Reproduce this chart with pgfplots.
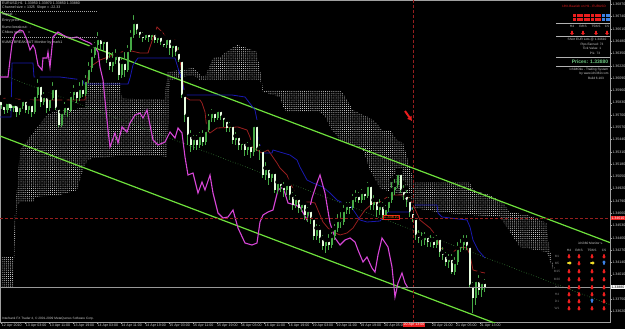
\documentclass[border=0pt]{standalone}
\usepackage{pgfplots}
\pgfplotsset{compat=1.18}
\usepackage{pgfplotstable}
\usepackage{fontspec}
\setmainfont{Liberation Sans}
\usetikzlibrary{patterns.meta,arrows.meta,shapes.arrows}
\definecolor{cgreen}{RGB}{70,170,70}
\definecolor{cwhite}{RGB}{232,255,225}
\definecolor{cmag}{RGB}{215,70,215}
\definecolor{cblue}{RGB}{25,25,175}
\definecolor{cdred}{RGB}{150,30,30}
\definecolor{clime}{RGB}{110,225,60}
\definecolor{cdot}{RGB}{60,140,60}
\definecolor{cred}{RGB}{235,30,30}
\definecolor{tgray}{RGB}{205,205,205}
\definecolor{cyell}{RGB}{240,220,40}
\definecolor{cbl}{RGB}{60,130,230}
\definecolor{pgreen}{RGB}{110,200,130}
\newcommand\ft{\fontsize{3.6}{4.3}\selectfont}
\newcommand\fs{\fontsize{3.2}{3.8}\selectfont}
\tikzset{blk/.style={single arrow, draw=none, fill=#1, minimum height=4.2bp, minimum width=3.8bp, single arrow head extend=0.5bp, single arrow head indent=0pt, inner sep=0.3bp}}
\newcommand\dn[2]{\node[blk=cred, rotate=-90] at (axis cs:#1,#2) {};}
\newcommand\up[2]{\node[blk=cbl, rotate=90] at (axis cs:#1,#2) {};}
\newcommand\rt[2]{\node[blk=cyell] at (axis cs:#1,#2) {};}
\pgfplotstableread{
x o c h l
1.5 100 105 97 109
4.5 105 110 102 114
7.5 110 102 99 113
10.5 102 108 99 111
13.5 108 104 100 112
16.5 104 112 101 117
19.5 112 106 103 115
22.5 106 100 97 109
25.5 100 110 98 113
28.5 110 104 101 114
31.5 104 112 102 117
34.5 112 95 92 114
37.5 95 85 77 98
40.5 85 102 82 107
43.5 102 96 90 105
46.5 96 108 93 113
49.5 108 98 95 111
52.5 98 88 80 100
55.5 88 108 84 110
58.5 108 125 105 127
61.5 125 112 108 127
64.5 112 106 100 115
67.5 106 110 103 117
70.5 110 95 90 112
73.5 95 90 83 100
76.5 90 98 86 103
79.5 98 88 80 101
82.5 88 94 78 97
85.5 94 80 73 96
88.5 80 68 60 83
91.5 68 55 47 72
94.5 55 45 40 58
97.5 45 38 30 48
100.5 38 44 34 50
103.5 44 40 37 52
106.5 40 60 37 63
109.5 60 66 50 70
112.5 66 60 50 72
115.5 60 55 47 64
118.5 55 75 52 80
121.5 75 62 55 78
124.5 62 70 50 77
127.5 70 50 43 72
130.5 50 35 28 52
133.5 35 22 13 38
136.5 22 30 18 34
139.5 30 35 27 38
142.5 35 38 30 42
145.5 38 33 29 40
148.5 33 37 30 42
151.5 37 33 30 40
154.5 33 40 31 43
157.5 40 36 32 43
160.5 36 42 33 45
163.5 42 45 38 47
166.5 45 38 34 48
169.5 38 48 35 55
172.5 48 44 40 57
175.5 44 52 42 56
178.5 52 60 45 62
181.5 60 95 58 98
184.5 95 115 92 122
187.5 115 135 112 145
190.5 135 145 128 152
193.5 145 138 133 150
196.5 138 145 133 150
199.5 145 135 130 148
202.5 135 142 128 146
205.5 142 130 126 145
208.5 130 118 112 132
211.5 118 112 107 122
214.5 112 118 108 122
217.5 118 110 106 120
220.5 110 116 107 120
223.5 116 120 112 127
226.5 120 128 117 132
229.5 128 125 120 132
232.5 125 140 122 144
235.5 140 136 130 145
238.5 136 145 133 150
241.5 145 142 138 150
244.5 142 150 140 156
247.5 150 145 140 155
250.5 145 152 142 158
253.5 152 125 122 156
256.5 125 148 122 151
259.5 148 150 142 160
262.5 150 175 147 178
265.5 175 168 160 180
268.5 168 178 165 185
271.5 178 172 168 182
274.5 172 190 170 193
277.5 190 182 178 194
280.5 182 186 178 192
283.5 186 190 180 197
286.5 190 184 180 195
289.5 184 195 182 200
292.5 195 205 190 210
295.5 205 198 193 208
298.5 198 208 195 213
301.5 208 203 200 212
304.5 203 215 200 220
307.5 215 210 205 222
310.5 210 218 207 224
313.5 218 236 215 240
316.5 236 228 222 240
319.5 228 238 223 243
322.5 238 246 233 250
325.5 246 240 236 253
328.5 240 245 232 250
331.5 245 236 230 248
334.5 236 228 222 240
337.5 228 220 212 232
340.5 220 222 210 228
343.5 222 210 203 225
346.5 210 205 200 214
349.5 205 208 200 214
352.5 208 198 192 210
355.5 198 195 188 202
358.5 195 200 190 203
361.5 200 192 187 203
364.5 192 196 188 200
367.5 196 185 180 198
370.5 185 205 183 210
373.5 205 200 193 210
376.5 200 210 196 217
379.5 210 205 197 215
382.5 205 215 200 220
385.5 215 208 203 218
388.5 208 200 195 212
391.5 200 190 180 203
394.5 190 185 177 195
397.5 185 173 170 188
400.5 173 190 170 193
403.5 190 195 183 200
406.5 195 200 188 207
409.5 200 212 195 217
412.5 212 218 205 222
415.5 218 235 217 240
418.5 235 238 228 243
421.5 238 240 230 246
424.5 240 236 230 245
427.5 236 242 232 247
430.5 242 240 233 247
433.5 240 245 235 248
436.5 245 238 233 248
439.5 238 252 236 257
442.5 252 255 245 260
445.5 255 262 250 266
448.5 262 258 252 268
451.5 258 272 252 274
454.5 272 262 255 275
457.5 262 248 240 265
460.5 248 245 237 252
463.5 245 240 233 250
466.5 240 246 233 250
469.5 246 285 243 288
472.5 285 298 280 313
475.5 298 280 277 305
478.5 280 290 273 295
481.5 290 282 278 297
484.5 282 287 277 292
}\candles
\begin{document}
\begin{tikzpicture}
\useasboundingbox[fill=black] (0,-7bp) rectangle (625bp,322bp);
\begin{axis}[
  at={(0,0)}, anchor=south west,
  width=610bp, height=322bp, scale only axis,
  xmin=0, xmax=610, ymin=0, ymax=322, y dir=reverse,
  axis background/.style={fill=black},
  axis line style={draw=gray!75, line width=0.6bp},
  clip mode=individual,
  xtick pos=left, ytick pos=right,
  tick align=outside, major tick length=1.5bp,
  tick style={gray!75, line width=0.4bp},
  xtick={1.7,25.6,49.5,73.4,97.3,121.2,145.1,169,192.9,216.8,240.7,264.6,288.5,312.4,336.3,360.2,384.1,408,431.9,455.8,479.7},
  xticklabels={12 Apr 2010,13 Apr 03:00,13 Apr 11:00,13 Apr 19:00,14 Apr 03:00,14 Apr 11:00,14 Apr 19:00,15 Apr 03:00,15 Apr 11:00,15 Apr 19:00,16 Apr 03:00,16 Apr 11:00,16 Apr 19:00,19 Apr 03:00,19 Apr 11:00,19 Apr 19:00,20 Apr 05:00,{},20 Apr 21:00,21 Apr 05:00,21 Apr 13:00},
  xticklabel style={anchor=north west, inner sep=0.6bp, xshift=-0.5bp, font=\ft, text=tgray},
  ytick={4.4,16.7,29.0,41.3,53.5,65.8,78.1,90.4,102.7,115.0,127.3,139.6,151.8,164.1,176.4,188.7,201.0,213.3,225.6,237.9,250.2,262.5,274.7,287.0,299.3,311.6},
  yticklabels={1.36870,1.36740,1.36610,1.36480,1.36350,1.36220,1.36090,1.35960,1.35830,1.35700,1.35570,1.35440,1.35310,1.35180,1.35050,1.34920,1.34790,1.34660,1.34530,1.34400,1.34270,1.34140,1.34010,1.33880,1.33750,1.33620},
  yticklabel style={anchor=west, inner sep=0.8bp, font=\ft, text=tgray},
]
% Ichimoku cloud
\addplot[draw=none, pattern={Dots[distance=2.1bp,radius=0.5bp]}, pattern color=white!88!gray] coordinates {
(2,257)(13,257)(15,215)(17,190)(20,150)(33,133)(47,115)(58,110)(72,110)(85,107)(87,83)(93,82)(120,83)(122,98)(165,100)(167,72)(180,70)(193,68)(200,75)(205,77)(208,70)(213,58)(220,57)(232,48)(237,45)(247,48)(257,52)(260,67)(263,90)(340,90)(343,93)(353,110)(363,115)(370,118)(377,123)(382,130)(390,130)(397,140)(403,143)(407,157)(412,175)(414,182)(470,182)(473,190)(483,193)(490,195)(498,200)(503,202)(510,212)(527,215)(547,223)(548,237)(552,260)(555,268)
(552,268)(547,252)(520,247)(510,232)(500,217)(470,215)(437,212)(415,208)(400,195)(380,188)(370,170)(363,150)(353,145)(340,140)(332,130)(325,116)(320,112)(287,112)(283,107)(280,97)(263,92)(260,80)(200,80)(193,75)(180,78)(170,80)(167,157)(148,155)(120,156)(93,158)(88,160)(85,165)(82,173)(77,190)(60,195)(35,197)(33,202)(20,202)(17,205)(15,240)(13,288)(2,288)
} -- cycle;
% channel
\addplot[clime, line width=1.2bp] coordinates {(0,12)(610,242.6)};
\addplot[clime, line width=1.2bp] coordinates {(0,136)(610,366.6)};
\addplot[cdot, line width=0.6bp, dotted] coordinates {(0,74)(610,304.6)};
% tenkan / kijun
\addplot[cdred, line width=0.8bp] coordinates {(0,98)(30,100)(60,100)(85,100)(87,83)(90,67)(100,60)(127,50)(140,53)(148,53)(153,38)(157,27)(167,37)(175,40)(180,60)(185,97)(190,100)(200,100)(202,103)(205,112)(207,130)(210,133)(217,128)(238,127)(247,130)(250,137)(252,147)(262,153)(268,150)(277,163)(280,168)(287,175)(290,183)(295,192)(297,202)(310,202)(315,203)(320,215)(323,222)(328,228)(333,232)(340,235)(347,233)(353,228)(360,217)(365,210)(373,203)(380,202)(390,195)(403,195)(410,198)(420,220)(430,228)(437,237)(440,248)(447,250)(453,252)(460,247)(467,248)(470,255)(473,270)(480,272)(485,273)};
\addplot[cblue, line width=0.8bp] coordinates {(0,117)(11,117)(12,63)(33,63)(34,77)(60,77)(83,80)(84,84)(128,84)(130,78)(133,65)(138,58)(175,58)(178,68)(182,80)(185,95)(232,95)(245,97)(255,110)(257,120)(258,140)(263,153)(272,153)(273,150)(290,155)(297,160)(300,167)(307,180)(313,183)(323,187)(330,193)(337,200)(343,203)(350,205)(360,220)(367,222)(380,221)(388,212)(410,212)(413,205)(437,205)(438,213)(442,217)(467,220)(470,227)(473,240)(478,250)(485,258)};
% chikou
\addplot[cmag, line width=1.1bp] coordinates {(0,77)(8,77)(10,60)(12,44)(15,34)(20,30)(23,31)(27,40)(30,50)(33,45)(35,49)(38,65)(42,70)(43,58)(47,58)(48,52)(50,67)(53,37)(58,32)(63,35)(67,37)(72,38)(77,37)(83,40)(90,43)(95,47)(98,52)(100,67)(103,80)(105,100)(108,130)(110,147)(115,133)(118,143)(122,127)(127,132)(130,123)(135,115)(140,113)(143,118)(147,110)(150,125)(153,140)(158,145)(165,142)(170,132)(175,138)(178,128)(182,133)(185,157)(188,175)(193,173)(198,193)(202,182)(205,190)(210,175)(213,193)(218,213)(223,218)(228,217)(233,210)(238,228)(245,243)(252,245)(257,243)(260,222)(263,215)(268,212)(273,210)(278,190)(283,187)(288,203)(295,205)(300,207)(307,220)(312,198)(317,183)(320,175)(325,193)(330,223)(335,238)(340,245)(345,240)(350,238)(355,242)(358,250)(363,262)(367,257)(372,268)(375,272)(378,255)(382,238)(388,247)(392,267)(395,297)(398,283)(402,273)(405,283)(408,288)};
% candles: wicks
\addplot[only marks, mark=none, error bars/.cd, y dir=plus, y explicit, error mark=none, error bar style={draw=cgreen, line width=0.8bp}]
  table[x=x, y=h, y error plus expr=\thisrow{l}-\thisrow{h}] {\candles};
% bear bodies (white)
\addplot[only marks, mark=none, restrict expr to domain={\thisrow{c}-\thisrow{o}}{0.5:1000}, error bars/.cd, y dir=plus, y explicit, error mark=none, error bar style={draw=cwhite, line width=2bp}]
  table[x=x, y=o, y error plus expr=\thisrow{c}-\thisrow{o}] {\candles};
% bull bodies
\addplot[only marks, mark=none, restrict expr to domain={\thisrow{o}-\thisrow{c}}{0.5:1000}, error bars/.cd, y dir=plus, y explicit, error mark=none, error bar style={draw=cgreen, line width=2bp}]
  table[x=x, y=c, y error plus expr=\thisrow{o}-\thisrow{c}] {\candles};
% reference lines
\addplot[cdred, line width=0.8bp, dash pattern=on 3bp off 2bp] coordinates {(0,218)(610,218)};
\addplot[cdred, line width=0.8bp, dash pattern=on 3bp off 2bp] coordinates {(413,0)(413,322)};
\addplot[gray!80, line width=0.7bp] coordinates {(0,287)(610,287)};
\addplot[cred, line width=2bp, -{Latex[length=4.5bp,width=6bp]}] coordinates {(405,111)(412,121)};
% price labels
\node[fill=cred, text=white, font=\ft, inner sep=0.8bp, anchor=west] at (axis cs:610.5,218) {1.34610};
\node[fill=white, text=black, font=\ft, inner sep=0.8bp, anchor=west] at (axis cs:610.5,287) {1.33880};
\node[fill=cred, text=white, font=\ft, inner sep=0.6bp, anchor=north] at (axis cs:414,322.3) {20 Apr 13:00};
\node[draw=cred, fill=black, text=orange!80!red, font=\fontsize{4.2}{5}\selectfont, inner sep=0.6bp, anchor=west] at (axis cs:383,217) {1.34610};
% top-left info
\node[anchor=west, text=tgray, font=\ft, inner sep=0] at (axis cs:2,3) {EURUSD,H1 \ 1.33950 1.33970 1.33850 1.33880};
\node[anchor=west, text=tgray, font=\ft, inner sep=0] at (axis cs:2,7.5) {Channel size = 1325 \ Slope = -22.33};
\draw[gray!70, line width=0.3bp, dash pattern=on 1bp off 1bp] (axis cs:2,11) -- (axis cs:97,11);
\node[anchor=west, text=tgray, font=\ft, inner sep=0] at (axis cs:2,15) {Signal: \ -};
\node[anchor=west, text=tgray, font=\ft, inner sep=0] at (axis cs:2,21) {Entry price:};
\node[anchor=west, text=tgray, font=\ft, inner sep=0] at (axis cs:2,27) {Kumo breakout: \ -};
\node[anchor=west, text=tgray, font=\ft, inner sep=0] at (axis cs:2,33) {Chikou span: \quad =};
\draw[gray!70, line width=0.3bp, dash pattern=on 1bp off 1bp] (axis cs:2,37) -- (axis cs:97,37);
\node[anchor=west, text=tgray, font=\ft, inner sep=0] at (axis cs:2,43) {KUMO BREAKOUT Monitor by mark1};
\node[anchor=west, text=tgray, font=\fs, inner sep=0] at (axis cs:2,318.5) {Interbank FX Trader 4, \textcopyright\ 2001-2009 MetaQuotes Software Corp.};
% right top panel
\node[text=cred, font=\fs, inner sep=0] at (axis cs:584,6) {18\% Bearish on H1 - EURUSD};
\draw[cred, line width=3.2bp, dash pattern=on 3bp off 0.6bp] (axis cs:573,15.5) -- (axis cs:602,15.5);
\draw[cred, line width=3.2bp, dash pattern=on 3bp off 0.6bp] (axis cs:573,19.5) -- (axis cs:602,19.5);
\draw[cbl, line width=3.2bp, dash pattern=on 3bp off 0.6bp] (axis cs:602,15.5) -- (axis cs:610,15.5);
\draw[cbl, line width=3.2bp, dash pattern=on 3bp off 0.6bp] (axis cs:602,19.5) -- (axis cs:610,19.5);
\draw[gray!60, line width=0.4bp] (axis cs:556,23.5) -- (axis cs:610,23.5);
\node[text=tgray, font=\fs, inner sep=0] at (axis cs:572,26.5) {H4};
\node[text=tgray, font=\fs, inner sep=0] at (axis cs:583,26.5) {R/KS};
\node[text=tgray, font=\fs, inner sep=0] at (axis cs:596,26.5) {T5/KS};
\node[text=tgray, font=\fs, inner sep=0] at (axis cs:607,26.5) {CS};
\dn{572}{32.5}\dn{583}{32.5}\dn{596}{32.5}\dn{607}{32.5}
\draw[gray!60, line width=0.4bp] (axis cs:556,36.5) -- (axis cs:610,36.5);
\node[text=tgray, font=\fs, inner sep=0] at (axis cs:587,40) {Short EUR Lots @ 1.34610};
\node[text=tgray, font=\fs, inner sep=0] at (axis cs:592,44.5) {Pips Earned: 73};
\node[text=tgray, font=\fs, inner sep=0] at (axis cs:592,48.7) {Tick Value: 1};
\node[text=tgray, font=\fs, inner sep=0] at (axis cs:595,52.9) {P/L: 73};
\draw[gray!60, line width=0.4bp] (axis cs:556,57) -- (axis cs:610,57);
\node[text=pgreen, font=\fontsize{5}{6}\selectfont\bfseries, inner sep=0] at (axis cs:590,61.5) {Prices: 1.33880};
\draw[gray!60, line width=0.4bp] (axis cs:556,66) -- (axis cs:610,66);
\node[text=tgray, font=\fs, inner sep=0] at (axis cs:589,69.5) {IchiMOku - Trading System};
\node[text=tgray, font=\fs, inner sep=0] at (axis cs:594,74) {by www.ichi360.com};
\node[text=tgray, font=\fs, inner sep=0] at (axis cs:596,78.3) {Build 6.103};
% bottom right monitor
\node[anchor=west, text=tgray, font=\fs, inner sep=0] at (axis cs:578,243.5) {ichi360 Monitor v.};
\node[text=tgray, font=\fs, inner sep=0] at (axis cs:569,250) {H4};
\node[text=tgray, font=\fs, inner sep=0] at (axis cs:579,250) {R/KS};
\node[text=tgray, font=\fs, inner sep=0] at (axis cs:592,250) {T5/KS};
\node[text=tgray, font=\fs, inner sep=0] at (axis cs:604,250) {CS};
\node[text=gray, font=\fs, inner sep=0] at (axis cs:557,256) {M1};
\node[text=gray, font=\fs, inner sep=0] at (axis cs:557,263) {M5};
\node[text=gray, font=\fs, inner sep=0] at (axis cs:557,271) {M15};
\node[text=gray, font=\fs, inner sep=0] at (axis cs:557,279) {M30};
\node[text=gray, font=\fs, inner sep=0] at (axis cs:557,287) {H1};
\node[text=gray, font=\fs, inner sep=0] at (axis cs:557,294) {H4};
\node[text=gray, font=\fs, inner sep=0] at (axis cs:557,301) {D1};
\node[text=gray, font=\fs, inner sep=0] at (axis cs:557,308) {W1};
\dn{569}{256}\dn{579}{256}\dn{592}{256}\dn{604}{256}
\rt{569}{263}\dn{579}{263}\rt{592}{263}\up{604}{263}
\dn{569}{271}\dn{579}{271}\dn{592}{271}\dn{604}{271}
\dn{569}{279}\dn{579}{279}\dn{592}{279}\dn{604}{279}
\dn{569}{287}\dn{579}{287}\dn{592}{287}\dn{604}{287}
\dn{569}{294}\dn{579}{294}\dn{592}{294}\dn{604}{294}
\dn{569}{301}\dn{579}{301}\up{592}{301}\dn{604}{301}
\dn{569}{308}\dn{579}{308}\dn{592}{308}\dn{604}{308}
\end{axis}
\end{tikzpicture}
\end{document}
